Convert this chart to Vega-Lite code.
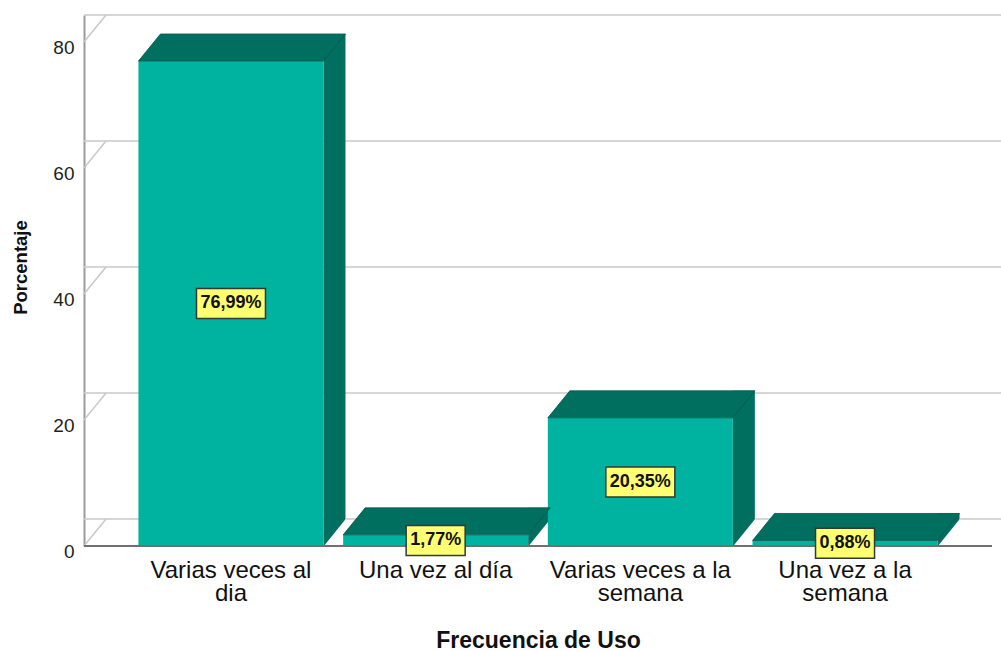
{
  "$schema": "https://vega.github.io/schema/vega-lite/v6.json",
  "width": 908,
  "height": 531,
  "autosize": {"type": "none"},
  "padding": {"left": 84, "top": 15, "right": 9, "bottom": 105},
  "background": "white",
  "config": {
    "font": "Liberation Sans",
    "view": {"stroke": null},
    "locale": {"number": {"decimal": ",", "thousands": ".", "grouping": [3], "currency": ["", "%"]}}
  },
  "data": {"values": [
    {"cat": "Varias veces al dia", "value": 76.99},
    {"cat": "Una vez al día", "value": 1.77},
    {"cat": "Varias veces a la semana", "value": 20.35},
    {"cat": "Una vez a la semana", "value": 0.88}
  ]},
  "layer": [
    {
      "layer": [
        {
          "data": {"values": [{"tick": 0}, {"tick": 20}, {"tick": 40}, {"tick": 60}, {"tick": 80}]},
          "layer": [
            {
              "mark": {"type": "rule", "color": "#c8c8c8", "strokeWidth": 1.5, "xOffset": 22, "x2Offset": 9, "yOffset": -27},
              "encoding": {
                "y": {"field": "tick", "type": "quantitative", "scale": {"domain": [0, 84.29], "nice": false, "zero": true}}
              }
            },
            {
              "mark": {"type": "rule", "color": "#c8c8c8", "strokeWidth": 1.5, "x2Offset": 22, "y2Offset": -27},
              "encoding": {
                "x": {"value": 0},
                "x2": {"value": 0},
                "y": {"field": "tick", "type": "quantitative", "scale": {"domain": [0, 84.29], "nice": false, "zero": true}},
                "y2": {"field": "tick"}
              }
            }
          ]
        },
        {
          "encoding": {
            "x": {
              "field": "cat", "type": "nominal", "sort": null,
              "scale": {"paddingInner": 0.096, "paddingOuter": 0.266, "round": false},
              "axis": {
                "title": "Frecuencia de Uso",
                "labelAngle": 0,
                "ticks": false,
                "tickSize": 0,
                "labelPadding": 12,
                "labelFontSize": 24,
                "labelLineHeight": 23.5,
                "labelColor": "#111111",
                "labelLimit": 400,
                "labelExpr": "length(datum.label) > 14 ? [slice(datum.label, 0, lastindexof(datum.label, ' ')), slice(datum.label, lastindexof(datum.label, ' ') + 1)] : datum.label",
                "domain": false,
                "titleFontSize": 23,
                "titleFontWeight": "bold",
                "titleColor": "#111111",
                "titleY": 101,
                "titleBaseline": "alphabetic"
              }
            },
            "y": {
              "field": "value", "type": "quantitative",
              "scale": {"domain": [0, 84.29], "nice": false, "zero": true},
              "axis": {
                "title": "Porcentaje",
                "values": [0, 20, 40, 60, 80],
                "grid": false,
                "ticks": false,
                "tickSize": 0,
                "labelPadding": 10,
                "labelFontSize": 19,
                "labelColor": "#1e1e1e",
                "labelOffset": 5,
                "domainColor": "#9b9b9b",
                "domainWidth": 2,
                "titleFontSize": 18.5,
                "titleFontWeight": "bold",
                "titleColor": "#111111",
                "titleX": -58,
                "titleY": 252,
                "titleAngle": 270,
                "titleAlign": "center",
                "titleBaseline": "alphabetic"
              }
            }
          },
          "layer": [
            {
              "mark": {"type": "bar", "color": "#006f60", "width": 22, "xOffset": 103.5, "yOffset": -27},
              "encoding": {"y2": {"datum": 0}}
            },
            {
              "mark": {"type": "point", "shape": "M92.5,0.5L115.2,0.5L115.2,-27.6Z", "size": 4, "filled": true, "fill": "white", "opacity": 1, "strokeWidth": 0},
              "encoding": {"y": {"datum": 0, "type": "quantitative"}}
            },
            {
              "mark": {"type": "bar", "color": "#00b3a0"}
            },
            {
              "mark": {"type": "point", "shape": "M-92.5,0L92.5,0L114.5,-27L-70.5,-27Z", "size": 4, "filled": true, "fill": "#006f60", "stroke": "#00584b", "strokeWidth": 0.8, "opacity": 1}
            }
          ]
        },
        {
          "mark": {"type": "rule", "color": "#707070", "strokeWidth": 1.5},
          "encoding": {"y": {"datum": 0, "type": "quantitative"}}
        }
      ]
    },
    {
      "encoding": {
        "x": {"field": "cat", "type": "nominal", "sort": null, "scale": {"paddingInner": 0.096, "paddingOuter": 0.266, "round": false}},
        "y": {"field": "value", "type": "quantitative", "scale": {"domain": [0, 168.58], "nice": false, "zero": true}, "axis": null}
      },
      "layer": [
        {
          "mark": {"type": "bar", "fill": "#ffff72", "stroke": "#2d3b33", "strokeWidth": 1.5, "yOffset": -15, "y2Offset": 15},
          "encoding": {
            "y2": {"field": "value"},
            "size": {"condition": {"test": "datum.value >= 10", "value": 69}, "value": 59}
          }
        },
        {
          "mark": {"type": "text", "fontSize": 18, "fontWeight": "bold", "color": "#111111", "baseline": "middle", "align": "center"},
          "encoding": {"text": {"field": "value", "type": "quantitative", "format": "$.2f"}}
        }
      ]
    }
  ],
  "resolve": {"scale": {"y": "independent"}}
}
